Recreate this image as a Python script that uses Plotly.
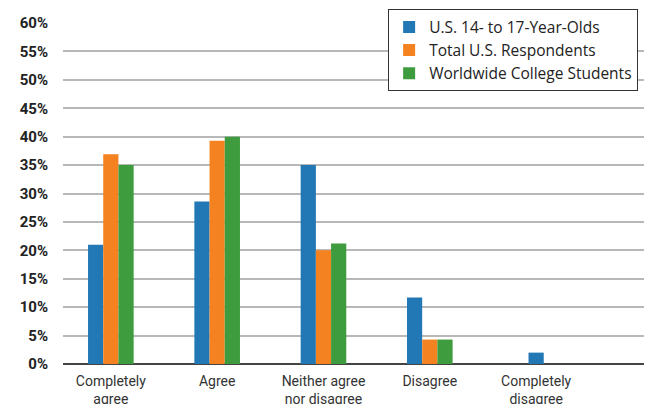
import plotly.graph_objects as go

categories = ["Completely<br>agree", "Agree", "Neither agree<br>nor disagree", "Disagree", "Completely<br>disagree"]
series_names = ["U.S. 14- to 17-Year-Olds", "Total U.S. Respondents", "Worldwide College Students"]
teens = [21.0, 28.6, 35.0, 11.7, 2.0]
total_us = [36.9, 39.3, 20.0, 4.3, None]
college = [35.0, 40.0, 21.2, 4.3, None]
y_ticks = [0, 5, 10, 15, 20, 25, 30, 35, 40, 45, 50, 55, 60]
y_tick_labels = [f"{v}%" for v in y_ticks]

colors = ["#2277b5", "#f58220", "#3e9b3e"]
w = 0.143
offsets = [
    [-1.5 * w, -1.5 * w, -1.5 * w, -1.5 * w, -0.5 * w],
    [-0.5 * w] * 5,
    [0.5 * w] * 5,
]

fig = go.Figure()
for name, vals, col, off in zip(series_names, [teens, total_us, college], colors, offsets):
    fig.add_trace(go.Bar(
        x=categories, y=vals, name=name, marker=dict(color=col, line=dict(width=0)),
        width=w, offset=off,
    ))

fig.update_layout(
    width=644, height=396,
    margin=dict(l=55, r=0, t=15, b=40, autoexpand=False),
    paper_bgcolor="white", plot_bgcolor="white",
    barmode="group",
    showlegend=True,
    legend=dict(
        x=0.552, y=1.04, xanchor="left", yanchor="top",
        bgcolor="white", bordercolor="#333", borderwidth=1,
        font=dict(family="Open Sans", size=15.5, color="#222"),
        tracegroupgap=0, itemwidth=30,
    ),
    xaxis=dict(
        range=[-0.45, 5.09], showgrid=False, ticks="", automargin=False,
        tickfont=dict(family="Roboto", size=14, color="#333"),
        showline=False, ticklabelstandoff=7,
    ),
    yaxis=dict(
        range=[0, 60], tickvals=y_ticks, ticktext=y_tick_labels, automargin=False,
        showgrid=True, gridcolor="#b8b8b8", gridwidth=2,
        zeroline=True, zerolinecolor="#444", zerolinewidth=2,
        tickfont=dict(family="Roboto", size=15, color="#222", weight="bold"),
        ticks="", ticklabelstandoff=14,
    ),
    font=dict(family="Roboto"),
)

fig.write_html("out.html")
